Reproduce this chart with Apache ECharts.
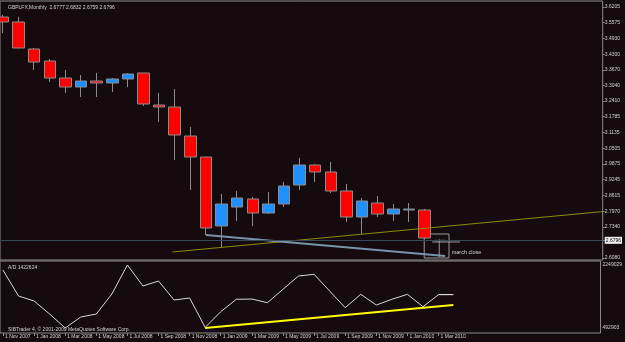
<!DOCTYPE html>
<html>
<head>
<meta charset="utf-8">
<title>GBPLFX Monthly</title>
<script src="https://cdn.jsdelivr.net/npm/echarts@6/dist/echarts.min.js"></script>
<style>
html, body { margin: 0; padding: 0; background: #150a0e; }
#chart { width: 625px; height: 342px; }
</style>
</head>
<body>
<div id="chart"></div>
<script>
// monthly bars, index 0 = Nov 2007 ... 28 = Mar 2010
var opens  = [3.5802,3.5600,3.4511,3.4028,3.3342,3.2979,3.3221,3.3141,3.3302,3.3544,3.2253,3.2173,3.1003,3.0157,
              2.7374,2.8140,2.8463,2.7898,2.8261,2.9028,2.9834,2.9552,2.8786,2.7737,2.8302,2.7858,2.8019,2.8019,2.6777];
var closes = [3.5600,3.4552,3.3987,3.3342,3.2979,3.3221,3.3141,3.3302,3.3503,3.2294,3.2173,3.1044,3.0157,2.7294,
              2.8261,2.8503,2.7898,2.8261,2.8987,2.9834,2.9552,2.8786,2.7737,2.8382,2.7858,2.8060,2.8060,2.6890,2.6796];
var lows   = [3.5157,3.4532,3.3665,3.3181,3.2737,3.2576,3.2576,3.2778,3.2979,3.2213,3.1568,3.0036,2.8826,2.7011,
              2.6527,2.7576,2.7374,2.7858,2.8140,2.8826,2.9149,2.8705,2.7536,2.7052,2.7737,2.7576,2.7536,2.6850,2.6759];
var highs  = [3.5882,3.5802,3.4552,3.4108,3.3665,3.3463,3.3544,3.3342,3.3544,3.3544,3.2737,3.2899,3.1366,3.0157,
              2.8665,2.8786,2.8544,2.8745,2.9149,3.0116,2.9874,2.9955,2.9068,2.8503,2.8584,2.8261,2.8302,2.8060,2.6832];

// accumulation / distribution
var adValues = [2109654,1384904,1245529,883154,492903,799529,883154,1440654,2249029,1663654,1803029,1273404,1329154,510000,
                947266,1292916,1300000,1198141,1571666,1942404,1989791,1524279,1058766,1432291,1134029,1292916,1432291,1086641,1422624];

var xTickIdx    = [0,2,4,6,8,10,12,14,16,18,20,22,24,26,28];
var xTickLabels = ['1 Nov 2007','1 Jan 2008','1 Mar 2008','1 May 2008','1 Jul 2008','1 Sep 2008','1 Nov 2008',
                   '1 Jan 2009','1 Mar 2009','1 May 2009','1 Jul 2009','1 Sep 2009','1 Nov 2009','1 Jan 2010','1 Mar 2010'];
var priceTicks  = [3.6205,3.5575,3.4930,3.4300,3.3670,3.3040,3.2410,3.1785,3.1135,3.0505,2.9875,2.9245,2.8615,2.7970,2.7340,2.6796,2.6080];
var adTicks     = [2249029,492903];
var lastPrice   = 2.6796;

// user drawings: [month index, price]
var olivLine  = [[10.86,2.6326],[38.41,2.7955]];
var steelLine = [[13,2.7011],[28.32,2.6165]];
var marchBox  = [[26.98,2.7052],[28.57,2.6084]];
var crossV    = [[27.94,2.6810],[27.94,2.6124]];
var crossH    = [[27.49,2.6729],[29.27,2.6729]];
var adTrend   = [[13,492903],[28.95,1134029]];
var adFlat    = [[28,1422624],[28.95,1422624]];

var candles = [], adData = [];
for (var i = 0; i < opens.length; i++) {
    candles.push([i, opens[i], closes[i], lows[i], highs[i]]);
    adData.push([i, adValues[i]]);
}

var txt = '#d4d4d4', frame = '#8c8c8c', fnt = 'Liberation Sans';
var xMin = -0.19, xMax = 38.413;

var myChart = echarts.init(document.getElementById('chart'));
var option = {
    backgroundColor: '#150a0e',
    animation: false,
    title: [
        { text: 'GBPLFX,Monthly  2.6777 2.6832 2.6759 2.6796', left: 3, top: 0,
          textStyle: { color: txt, fontSize: 5, fontWeight: 'normal', fontFamily: fnt } },
        { text: 'A/D 1422624', left: 3, top: 260,
          textStyle: { color: txt, fontSize: 5, fontWeight: 'normal', fontFamily: fnt } },
        { text: 'SIBTrader 4, \u00a9 2001-2009 MetaQuotes Software Corp.', left: 3, top: 322,
          textStyle: { color: txt, fontSize: 5, fontWeight: 'normal', fontFamily: fnt } }
    ],
    grid: [
        { left: -1, right: 18, top: 1, height: 259, show: true, borderColor: frame, borderWidth: 1, backgroundColor: 'transparent' },
        { left: -1, right: 18, top: 261, height: 72, show: true, borderColor: frame, borderWidth: 1, backgroundColor: 'transparent' }
    ],
    xAxis: [
        { type: 'value', gridIndex: 0, min: xMin, max: xMax, splitLine: { show: false },
          axisLine: { show: false, onZero: false }, axisTick: { show: false }, axisLabel: { show: false } },
        { type: 'value', gridIndex: 1, min: xMin, max: xMax, splitLine: { show: false },
          axisLine: { show: false, onZero: false },
          axisTick: { show: true, length: 3, customValues: xTickIdx, lineStyle: { color: frame } },
          axisLabel: { show: true, customValues: xTickIdx, align: 'left', padding: [0, 0, 0, 2], margin: 1,
                       color: txt, fontSize: 5, fontFamily: fnt,
                       formatter: function (v) { return xTickLabels[xTickIdx.indexOf(Math.round(v))] || ''; } } }
    ],
    yAxis: [
        { type: 'value', gridIndex: 0, position: 'right', min: 2.6003, max: 3.6447, splitLine: { show: false },
          axisLine: { show: false, onZero: false },
          axisTick: { show: true, length: 2, customValues: priceTicks, lineStyle: { color: frame } },
          axisLabel: { customValues: priceTicks, margin: 2, color: txt, fontSize: 5, fontFamily: fnt,
                       formatter: function (v) {
                           var s = v.toFixed(4);
                           return Math.abs(v - lastPrice) < 1e-6 ? '{hl|' + s + '}' : s;
                       },
                       rich: { hl: { backgroundColor: '#f0f0f0', color: '#000', fontSize: 5, fontFamily: fnt, padding: [1, 1] } } } },
        { type: 'value', gridIndex: 1, position: 'right', min: 353529, max: 2360529, splitLine: { show: false },
          axisLine: { show: false, onZero: false },
          axisTick: { show: false, customValues: adTicks },
          axisLabel: { customValues: adTicks, margin: 2, color: txt, fontSize: 5, fontFamily: fnt,
                       formatter: function (v) { return String(v); } } }
    ],
    series: [
        {
            type: 'candlestick', xAxisIndex: 0, yAxisIndex: 0,
            data: candles, encode: { x: 0, y: [1, 2, 3, 4] }, barWidth: 12,
            itemStyle: { color: '#1e90ff', color0: '#ff0000', borderColor: frame, borderColor0: frame, borderWidth: 1 },
            markLine: { silent: true, symbol: 'none', label: { show: false },
                        lineStyle: { color: '#34495a', type: 'solid', width: 1 },
                        data: [{ yAxis: lastPrice }] },
            markArea: { silent: true,
                        itemStyle: { color: 'rgba(0,0,0,0)', borderColor: '#9a9a9a', borderWidth: 1 },
                        label: { show: true, formatter: 'march close', position: [28, 16], color: txt, fontSize: 5.5, fontFamily: fnt },
                        data: [[{ coord: marchBox[0] }, { coord: marchBox[1] }]] }
        },
        { type: 'line', xAxisIndex: 0, yAxisIndex: 0, data: olivLine, showSymbol: false, silent: true,
          lineStyle: { color: '#8c8c00', width: 1 } },
        { type: 'line', xAxisIndex: 0, yAxisIndex: 0, data: steelLine, showSymbol: false, silent: true,
          lineStyle: { color: '#7892a8', width: 2 } },
        { type: 'line', xAxisIndex: 0, yAxisIndex: 0, data: crossV, showSymbol: false, silent: true,
          lineStyle: { color: '#9a9a9a', width: 1 } },
        { type: 'line', xAxisIndex: 0, yAxisIndex: 0, data: crossH, showSymbol: false, silent: true,
          lineStyle: { color: '#9a9a9a', width: 1 } },
        { type: 'line', xAxisIndex: 1, yAxisIndex: 1, data: adData, showSymbol: false, silent: true,
          lineStyle: { color: '#d8d8d8', width: 1 } },
        { type: 'line', xAxisIndex: 1, yAxisIndex: 1, data: adFlat, showSymbol: false, silent: true,
          lineStyle: { color: '#ffffff', width: 1 } },
        { type: 'line', xAxisIndex: 1, yAxisIndex: 1, data: adTrend, showSymbol: false, silent: true,
          lineStyle: { color: '#ffff00', width: 2 } }
    ]
};

// 为echarts对象加载数据
myChart.setOption(option);
</script>
</body>
</html>
